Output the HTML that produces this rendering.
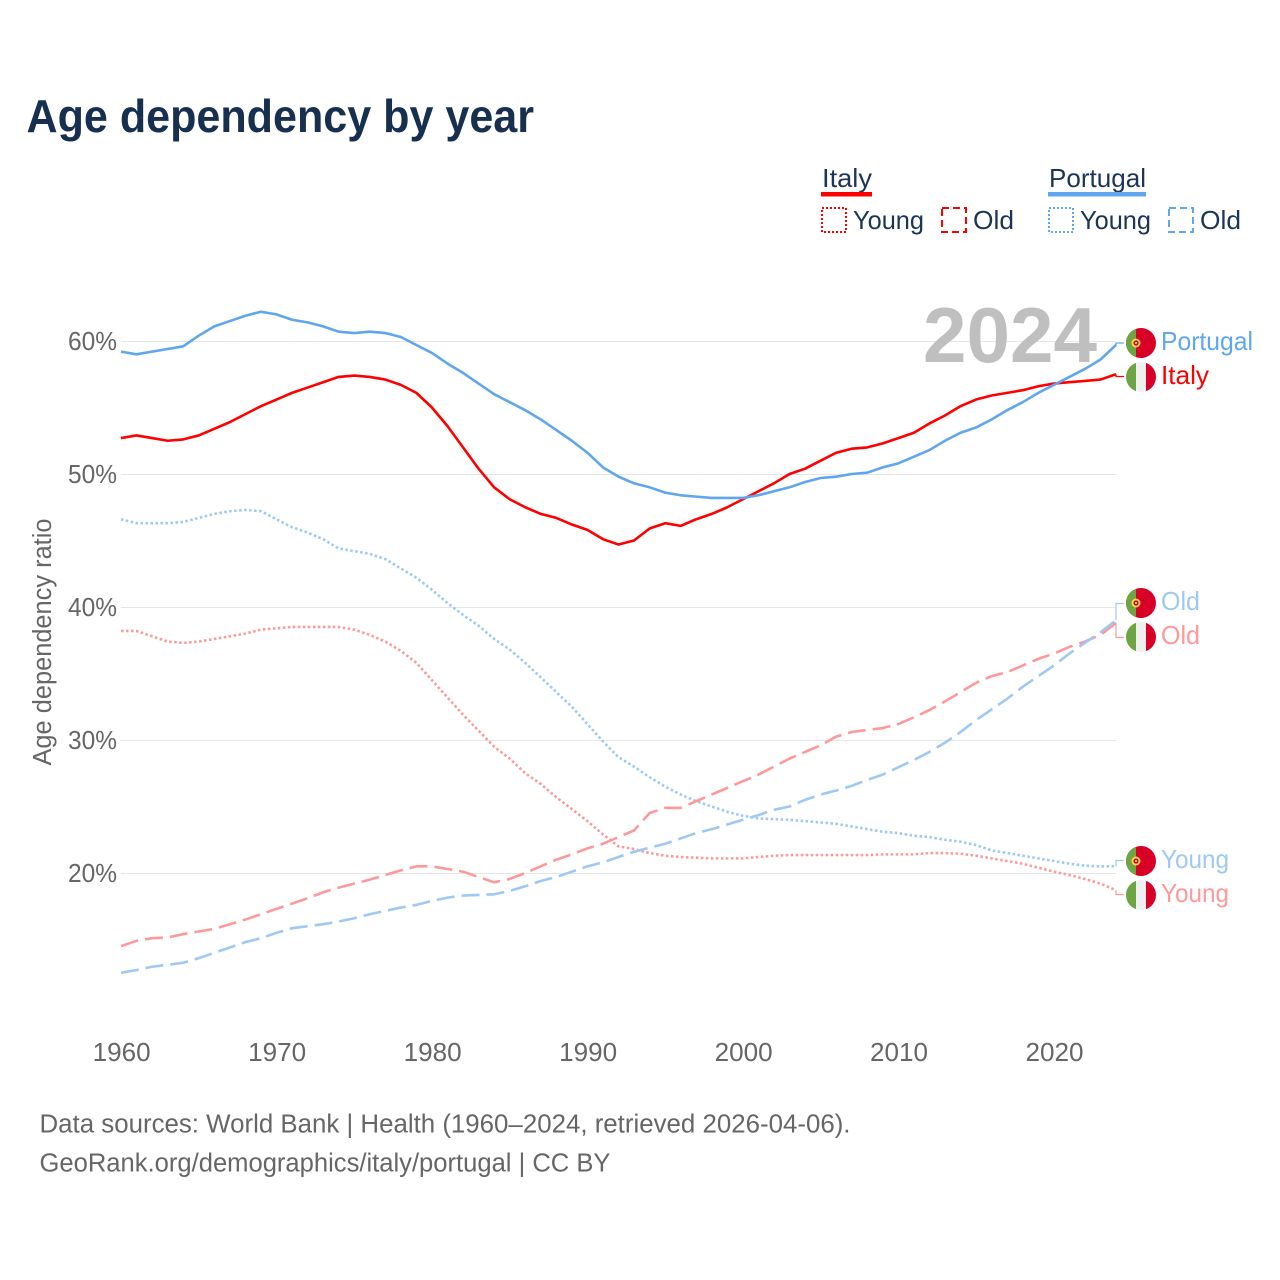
<!DOCTYPE html>
<html lang="en">
<head>
<meta charset="utf-8">
<title>Age dependency by year</title>
<style>
html,body{margin:0;padding:0;background:#fff;width:1280px;height:1280px;overflow:hidden}
svg{display:block}
text{font-family:"Liberation Sans",sans-serif}
</style>
</head>
<body>
<svg id="chart" xmlns="http://www.w3.org/2000/svg" width="1280" height="1280" viewBox="0 0 1280 1280">
  <defs><clipPath id="flag-clip"><circle cx="0" cy="0" r="15"/></clipPath></defs>
  <rect x="0" y="0" width="1280" height="1280" fill="#fff"/>
  <text x="26.5" y="132" font-size="46" font-weight="700" fill="#18304f" textLength="507.5" lengthAdjust="spacingAndGlyphs">Age dependency by year</text>

  <g font-size="26" fill="#1c3557">
    <text x="822" y="187" textLength="50" lengthAdjust="spacingAndGlyphs">Italy</text>
    <rect x="821" y="192" width="51" height="4.5" fill="#ff0000"/>
    <rect x="822" y="208" width="24" height="24" fill="none" stroke="#ff0000" stroke-width="2" stroke-dasharray="2 2"/>
    <text x="853" y="229" textLength="71" lengthAdjust="spacingAndGlyphs">Young</text>
    <rect x="942" y="208" width="24" height="24" fill="none" stroke="#ff0000" stroke-width="2" stroke-dasharray="7 4"/>
    <text x="973" y="229" textLength="41" lengthAdjust="spacingAndGlyphs">Old</text>
    <text x="1049" y="187" textLength="97" lengthAdjust="spacingAndGlyphs">Portugal</text>
    <rect x="1048" y="192" width="98" height="4.5" fill="#5fa6ef"/>
    <rect x="1049" y="208" width="24" height="24" fill="none" stroke="#5fa6ef" stroke-width="2" stroke-dasharray="2 2"/>
    <text x="1080" y="229" textLength="71" lengthAdjust="spacingAndGlyphs">Young</text>
    <rect x="1169" y="208" width="24" height="24" fill="none" stroke="#5fa6ef" stroke-width="2" stroke-dasharray="7 4"/>
    <text x="1200" y="229" textLength="41" lengthAdjust="spacingAndGlyphs">Old</text>
  </g>

  <g id="grid"></g>
  <text x="923" y="362" font-size="78" font-weight="700" fill="#bfbfbf" textLength="174" lengthAdjust="spacingAndGlyphs">2024</text>
  <g id="yticks" font-size="25.5" fill="#666"></g>
  <g id="xticks" font-size="25.5" fill="#666"></g>
  <text transform="translate(51,642) rotate(-90)" text-anchor="middle" font-size="25.5" fill="#666" textLength="247" lengthAdjust="spacingAndGlyphs">Age dependency ratio</text>
  <g id="series"></g>
  <g id="leaders"></g>

  <g font-size="26">
    <g transform="translate(1141,343)"><g clip-path="url(#flag-clip)"><rect x="-15" y="-15" width="30" height="30" fill="#d80027"/><rect x="-15" y="-15" width="10" height="30" fill="#6da544"/><circle cx="-5" cy="0" r="4.5" fill="#ffda44"/><circle cx="-5" cy="0" r="2.6" fill="#d80027"/><circle cx="-5" cy="0" r="1" fill="#f0f0f0"/></g></g>
    <text x="1161" y="350" fill="#5fa6ef" textLength="92" lengthAdjust="spacingAndGlyphs">Portugal</text>
    <g transform="translate(1141,377)"><g clip-path="url(#flag-clip)"><rect x="-15" y="-15" width="30" height="30" fill="#f0f0f0"/><rect x="-15" y="-15" width="10" height="30" fill="#6da544"/><rect x="5" y="-15" width="10" height="30" fill="#d80027"/></g></g>
    <text x="1161" y="384" fill="#ff0000" textLength="48" lengthAdjust="spacingAndGlyphs">Italy</text>
    <g transform="translate(1141,603)"><g clip-path="url(#flag-clip)"><rect x="-15" y="-15" width="30" height="30" fill="#d80027"/><rect x="-15" y="-15" width="10" height="30" fill="#6da544"/><circle cx="-5" cy="0" r="4.5" fill="#ffda44"/><circle cx="-5" cy="0" r="2.6" fill="#d80027"/><circle cx="-5" cy="0" r="1" fill="#f0f0f0"/></g></g>
    <text x="1161" y="610" fill="#9fc8f4" textLength="39" lengthAdjust="spacingAndGlyphs">Old</text>
    <g transform="translate(1141,637)"><g clip-path="url(#flag-clip)"><rect x="-15" y="-15" width="30" height="30" fill="#f0f0f0"/><rect x="-15" y="-15" width="10" height="30" fill="#6da544"/><rect x="5" y="-15" width="10" height="30" fill="#d80027"/></g></g>
    <text x="1161" y="644" fill="#ff9999" textLength="39" lengthAdjust="spacingAndGlyphs">Old</text>
    <g transform="translate(1141,861)"><g clip-path="url(#flag-clip)"><rect x="-15" y="-15" width="30" height="30" fill="#d80027"/><rect x="-15" y="-15" width="10" height="30" fill="#6da544"/><circle cx="-5" cy="0" r="4.5" fill="#ffda44"/><circle cx="-5" cy="0" r="2.6" fill="#d80027"/><circle cx="-5" cy="0" r="1" fill="#f0f0f0"/></g></g>
    <text x="1161" y="868" fill="#9fc8f4" textLength="68" lengthAdjust="spacingAndGlyphs">Young</text>
    <g transform="translate(1141,895)"><g clip-path="url(#flag-clip)"><rect x="-15" y="-15" width="30" height="30" fill="#f0f0f0"/><rect x="-15" y="-15" width="10" height="30" fill="#6da544"/><rect x="5" y="-15" width="10" height="30" fill="#d80027"/></g></g>
    <text x="1161" y="902" fill="#ff9999" textLength="68" lengthAdjust="spacingAndGlyphs">Young</text>
  </g>

  <g font-size="25.5" fill="#666">
    <text x="39.5" y="1132.5" textLength="811" lengthAdjust="spacingAndGlyphs">Data sources: World Bank | Health (1960–2024, retrieved 2026-04-06).</text>
    <text x="39.5" y="1171.5" textLength="571" lengthAdjust="spacingAndGlyphs">GeoRank.org/demographics/italy/portugal | CC BY</text>
  </g>
</svg>
<script>
const firstYear = 1960;
const xTickYears = [1960, 1970, 1980, 1990, 2000, 2010, 2020];
const yTickValues = [20, 30, 40, 50, 60];
const italyTotal = [
  52.7,52.9,52.7,52.5,52.6,52.9,53.4,53.9,54.5,55.1,
  55.6,56.1,56.5,56.9,57.3,57.4,57.3,57.1,56.7,56.1,
  55.0,53.6,52.0,50.4,49.0,48.1,47.5,47.0,46.7,46.2,
  45.8,45.1,44.7,45.0,45.9,46.3,46.1,46.6,47.0,47.5,
  48.1,48.7,49.3,50.0,50.4,51.0,51.6,51.9,52.0,52.3,
  52.7,53.1,53.8,54.4,55.1,55.6,55.9,56.1,56.3,56.6,
  56.8,56.9,57.0,57.1,57.5];
const portugalTotal = [
  59.2,59.0,59.2,59.4,59.6,60.4,61.1,61.5,61.9,62.2,
  62.0,61.6,61.4,61.1,60.7,60.6,60.7,60.6,60.3,59.7,
  59.1,58.3,57.6,56.8,56.0,55.4,54.8,54.1,53.3,52.5,
  51.6,50.5,49.8,49.3,49.0,48.6,48.4,48.3,48.2,48.2,
  48.2,48.4,48.7,49.0,49.4,49.7,49.8,50.0,50.1,50.5,
  50.8,51.3,51.8,52.5,53.1,53.5,54.1,54.8,55.4,56.1,
  56.7,57.3,57.9,58.6,59.7];
const italyYoung = [
  38.2,38.2,37.8,37.4,37.3,37.4,37.6,37.8,38.0,38.3,
  38.4,38.5,38.5,38.5,38.5,38.3,37.9,37.4,36.7,35.8,
  34.5,33.2,31.9,30.7,29.5,28.6,27.5,26.7,25.7,24.8,
  23.9,22.9,22.0,21.8,21.5,21.3,21.2,21.15,21.1,21.1,
  21.1,21.2,21.3,21.35,21.35,21.35,21.35,21.35,21.35,21.4,
  21.4,21.4,21.5,21.5,21.45,21.3,21.1,20.9,20.7,20.4,
  20.1,19.85,19.55,19.2,18.7];
const portugalYoung = [
  46.6,46.3,46.3,46.3,46.4,46.7,47.0,47.2,47.3,47.2,
  46.6,46.0,45.6,45.1,44.4,44.2,44.0,43.6,42.9,42.2,
  41.3,40.3,39.4,38.6,37.6,36.8,35.8,34.7,33.6,32.5,
  31.2,29.9,28.7,28.0,27.2,26.5,25.9,25.4,25.0,24.6,
  24.3,24.1,24.05,24.0,23.9,23.8,23.7,23.5,23.3,23.1,
  23.0,22.8,22.7,22.5,22.35,22.1,21.7,21.5,21.3,21.1,
  20.9,20.7,20.55,20.5,20.5];
const italyOld = [
  14.5,14.9,15.1,15.15,15.4,15.6,15.8,16.15,16.5,16.9,
  17.3,17.7,18.1,18.55,18.9,19.2,19.5,19.85,20.2,20.5,
  20.5,20.3,20.1,19.7,19.3,19.55,20.0,20.5,21.0,21.4,
  21.85,22.2,22.7,23.2,24.5,24.9,24.9,25.4,25.9,26.4,
  26.9,27.4,28.0,28.6,29.1,29.6,30.25,30.6,30.75,30.9,
  31.2,31.7,32.25,32.9,33.6,34.3,34.8,35.1,35.6,36.1,
  36.5,37.0,37.4,37.9,38.8];
const portugalOld = [
  12.5,12.7,12.95,13.1,13.25,13.6,14.0,14.4,14.8,15.1,
  15.5,15.85,16.0,16.15,16.35,16.6,16.9,17.15,17.4,17.6,
  17.9,18.15,18.3,18.35,18.4,18.65,19.0,19.4,19.7,20.1,
  20.5,20.8,21.2,21.6,21.9,22.2,22.6,23.0,23.3,23.65,
  24.0,24.35,24.75,25.0,25.5,25.9,26.2,26.55,27.0,27.4,
  27.95,28.5,29.1,29.8,30.6,31.5,32.3,33.1,34.0,34.8,
  35.6,36.5,37.3,38.1,39.0];

const NS = 'http://www.w3.org/2000/svg';
function xScale(year) { return 121 + (year - firstYear) * 15.547; }
function yScale(v) { return 873 - (v - 20) * 13.3; }
function make(tag, parent, attrs) {
  const el = document.createElementNS(NS, tag);
  for (const k in attrs) el.setAttribute(k, attrs[k]);
  parent.appendChild(el);
  return el;
}
const gridG = document.getElementById('grid');
const yTickG = document.getElementById('yticks');
const xTickG = document.getElementById('xticks');
const seriesG = document.getElementById('series');
const leaderG = document.getElementById('leaders');

yTickValues.forEach(function (v) {
  const gy = yScale(v) + 0.5;
  const line = make('line', gridG, {x1: 121, x2: 1116, y1: gy, y2: gy, stroke: '#e6e6e6', 'stroke-width': 1});
  
  
  const t = make('text', yTickG, {x: 117, y: yScale(v) + 9, 'text-anchor': 'end', textLength: 49, lengthAdjust: 'spacingAndGlyphs'});
  t.textContent = v + '%';
  
  
});
xTickYears.forEach(function (yr) {
  const t = make('text', xTickG, {x: xScale(yr) + 0.7, y: 1061, 'text-anchor': 'middle', textLength: 58, lengthAdjust: 'spacingAndGlyphs'});
  t.textContent = String(yr);
  
  
});
function drawSeries(values, name, color, dash) {
  const d = values.map(function (v, i) {
    return (i ? 'L' : 'M') + xScale(firstYear + i).toFixed(2) + ' ' + yScale(v).toFixed(2);
  }).join(' ');
  const p = make('path', seriesG, {d: d, fill: 'none', stroke: color, 'stroke-width': 2.6, 'stroke-linejoin': 'round'});
  if (dash) p.setAttribute('stroke-dasharray', dash);
  
  
}
function drawLeader(values, targetY, name, color) {
  const endX = xScale(firstYear + values.length - 1);
  const endY = yScale(values[values.length - 1]);
  const p = make('path', leaderG, {d: 'M' + endX + ' ' + endY + ' V' + targetY + ' H1124', fill: 'none', stroke: color, 'stroke-width': 1.2});
  
  
}
drawSeries(italyYoung, 'line-italy-young', '#ff9999', '2.5 2.5');
drawSeries(portugalYoung, 'line-portugal-young', '#9fc8f4', '2.5 2.5');
drawSeries(italyOld, 'line-italy-old', '#ff9999', '18 7');
drawSeries(portugalOld, 'line-portugal-old', '#9fc8f4', '18 7');
drawSeries(italyTotal, 'line-italy-total', '#ff0000', null);
drawSeries(portugalTotal, 'line-portugal-total', '#5fa6ef', null);
drawLeader(portugalTotal, 343, 'leader-portugal-total', '#5fa6ef');
drawLeader(italyTotal, 376.5, 'leader-italy-total', '#ff0000');
drawLeader(portugalOld, 603.5, 'leader-portugal-old', '#9fc8f4');
drawLeader(italyOld, 637.5, 'leader-italy-old', '#ff9999');
drawLeader(portugalYoung, 860.5, 'leader-portugal-young', '#9fc8f4');
drawLeader(italyYoung, 894.5, 'leader-italy-young', '#ff9999');
</script>
</body>
</html>
